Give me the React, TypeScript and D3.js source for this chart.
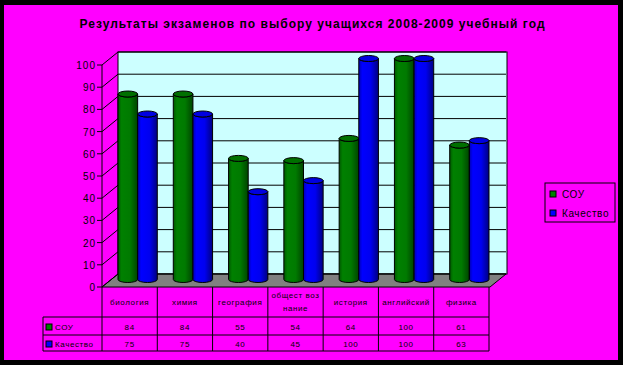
import React from 'react'
import * as d3 from 'd3'

const categories = ['биология', 'химия', 'география', 'обществознание', 'история', 'английский', 'физика']
const headerLines = [['биология'], ['химия'], ['география'], ['общест воз', 'нание'], ['история'], ['английский'], ['физика']]
const souValues = [84, 84, 55, 54, 64, 100, 61]
const qualityValues = [75, 75, 40, 45, 100, 100, 63]
const seriesNames = ['СОУ', 'Качество']
const yTicks = [0, 10, 20, 30, 40, 50, 60, 70, 80, 90, 100]

const W = 623
const H = 365
const FONT = 'Liberation Sans, Arial, sans-serif'

// plot geometry (front plane + depth offset)
const left = 102
const right = 489
const top = 65
const bottom = 287
const depthX = 16
const depthY = -13

function cylinder(x: number, w: number, yTop: number, yBot: number, ry: number) {
  const rx = w / 2
  return `M${x},${yTop} L${x},${yBot} A${rx},${ry} 0 0 0 ${x + w},${yBot} L${x + w},${yTop} A${rx},${ry} 0 0 1 ${x},${yTop} Z`
}

export default function App() {
  const x = d3.scaleBand<string>().domain(categories).range([left, right]).padding(0)
  const y = d3.scaleLinear().domain([0, 100]).range([bottom, top])
  const bw = x.bandwidth()
  const inner = d3.scaleBand<string>().domain(seriesNames).range([8, bw - 8]).padding(0)

  const midX = depthX / 2
  const midY = depthY / 2
  const series = [
    { name: seriesNames[0], values: souValues, fill: 'url(#gGreen)', cap: '#007000', key: '#008000' },
    { name: seriesNames[1], values: qualityValues, fill: 'url(#gBlue)', cap: '#0000e0', key: '#0000ff' },
  ]

  const tableTop = bottom
  const row1 = 317
  const row2 = 335
  const row3 = 351
  const tableLeft = 43

  return (
    <svg width={W} height={H} style={{ position: 'absolute', left: 0, top: 0, display: 'block' }} fontFamily={FONT}>
      <defs>
        <linearGradient id="gGreen" x1="0" x2="1" y1="0" y2="0">
          <stop offset="0%" stopColor="#005800" />
          <stop offset="18%" stopColor="#008000" />
          <stop offset="60%" stopColor="#007a00" />
          <stop offset="100%" stopColor="#004400" />
        </linearGradient>
        <linearGradient id="gBlue" x1="0" x2="1" y1="0" y2="0">
          <stop offset="0%" stopColor="#0000b0" />
          <stop offset="18%" stopColor="#0000ff" />
          <stop offset="60%" stopColor="#0000f0" />
          <stop offset="100%" stopColor="#000080" />
        </linearGradient>
      </defs>

      <rect x={0} y={0} width={W} height={H} fill="#000" />
      <rect x={4} y={5} width={614} height={355} fill="#ff00ff" />

      <text x={312} y={28} textAnchor="middle" fontSize={12} fontWeight="bold" textLength={465} lengthAdjust="spacing">
        Результаты экзаменов по выбору учащихся 2008-2009 учебный год
      </text>

      {/* back wall */}
      <rect x={left + depthX} y={top + depthY} width={right - left + 2} height={bottom - top} fill="#ccffff" stroke="#000" />
      {/* floor */}
      <path
        d={`M${left},${bottom} L${right + 1},${bottom} L${right + 1 + depthX},${bottom + depthY} L${left + depthX},${bottom + depthY} Z`}
        fill="#808080"
        stroke="#000"
      />
      {/* gridlines */}
      {yTicks.map((t) => (
        <g key={t}>
          <line x1={left + depthX} x2={right + 1 + depthX} y1={y(t) + depthY} y2={y(t) + depthY} stroke="#000" />
          <line x1={left} x2={left + depthX} y1={y(t)} y2={y(t) + depthY} stroke="#000" />
          <line x1={left - 5} x2={left} y1={y(t)} y2={y(t)} stroke="#000" />
          <text x={left - 6} y={y(t) + 4} textAnchor="end" fontSize={10} letterSpacing={1}>
            {t}
          </text>
        </g>
      ))}
      <line x1={left} x2={left} y1={top} y2={bottom} stroke="#000" />

      {/* cylinders */}
      {categories.map((c, i) =>
        series.map((s) => {
          const bx = (x(c) ?? 0) + midX + (inner(s.name) ?? 0)
          const w = inner.bandwidth()
          const yt = y(s.values[i]) + midY
          const yb = y(0) + midY - 1
          return (
            <g key={c + s.name}>
              <path d={cylinder(bx, w, yt, yb, 3)} fill={s.fill} stroke="#000" />
              <ellipse cx={bx + w / 2} cy={yt} rx={w / 2} ry={3} fill={s.cap} stroke="#000" />
            </g>
          )
        })
      )}

      {/* data table */}
      <g stroke="#000" fill="none">
        <line x1={tableLeft} x2={right} y1={row1} y2={row1} />
        <line x1={tableLeft} x2={right} y1={row2} y2={row2} />
        <line x1={tableLeft} x2={right} y1={row3} y2={row3} />
        <line x1={tableLeft} x2={tableLeft} y1={row1} y2={row3} />
        {categories.map((c) => (
          <line key={c} x1={x(c)} x2={x(c)} y1={tableTop} y2={row3} />
        ))}
        <line x1={right} x2={right} y1={tableTop} y2={row3} />
      </g>
      {categories.map((c, i) => {
        const cx = (x(c) ?? 0) + bw / 2
        const lines = headerLines[i]
        return (
          <g key={c} fontSize={8} textAnchor="middle" letterSpacing={0.6}>
            {lines.map((l, j) => (
              <text key={l} x={cx} y={lines.length === 1 ? 305 : 298 + j * 13}>
                {l}
              </text>
            ))}
            <text x={cx} y={330}>{souValues[i]}</text>
            <text x={cx} y={347}>{qualityValues[i]}</text>
          </g>
        )
      })}
      {series.map((s, j) => (
        <g key={s.name}>
          <rect x={46} y={[324, 341][j]} width={6} height={6} fill={s.key} stroke="#000" />
          <text x={55} y={[330, 347][j]} fontSize={8} letterSpacing={0.6}>
            {s.name}
          </text>
        </g>
      ))}

      {/* legend */}
      <rect x={545} y={183} width={70} height={39} fill="#ff00ff" stroke="#000" />
      {series.map((s, j) => (
        <g key={s.name}>
          <rect x={550} y={191 + j * 19} width={6} height={6} fill={s.key} stroke="#000" />
          <text x={562} y={198 + j * 19} fontSize={10} letterSpacing={0.6}>
            {s.name}
          </text>
        </g>
      ))}
    </svg>
  )
}
